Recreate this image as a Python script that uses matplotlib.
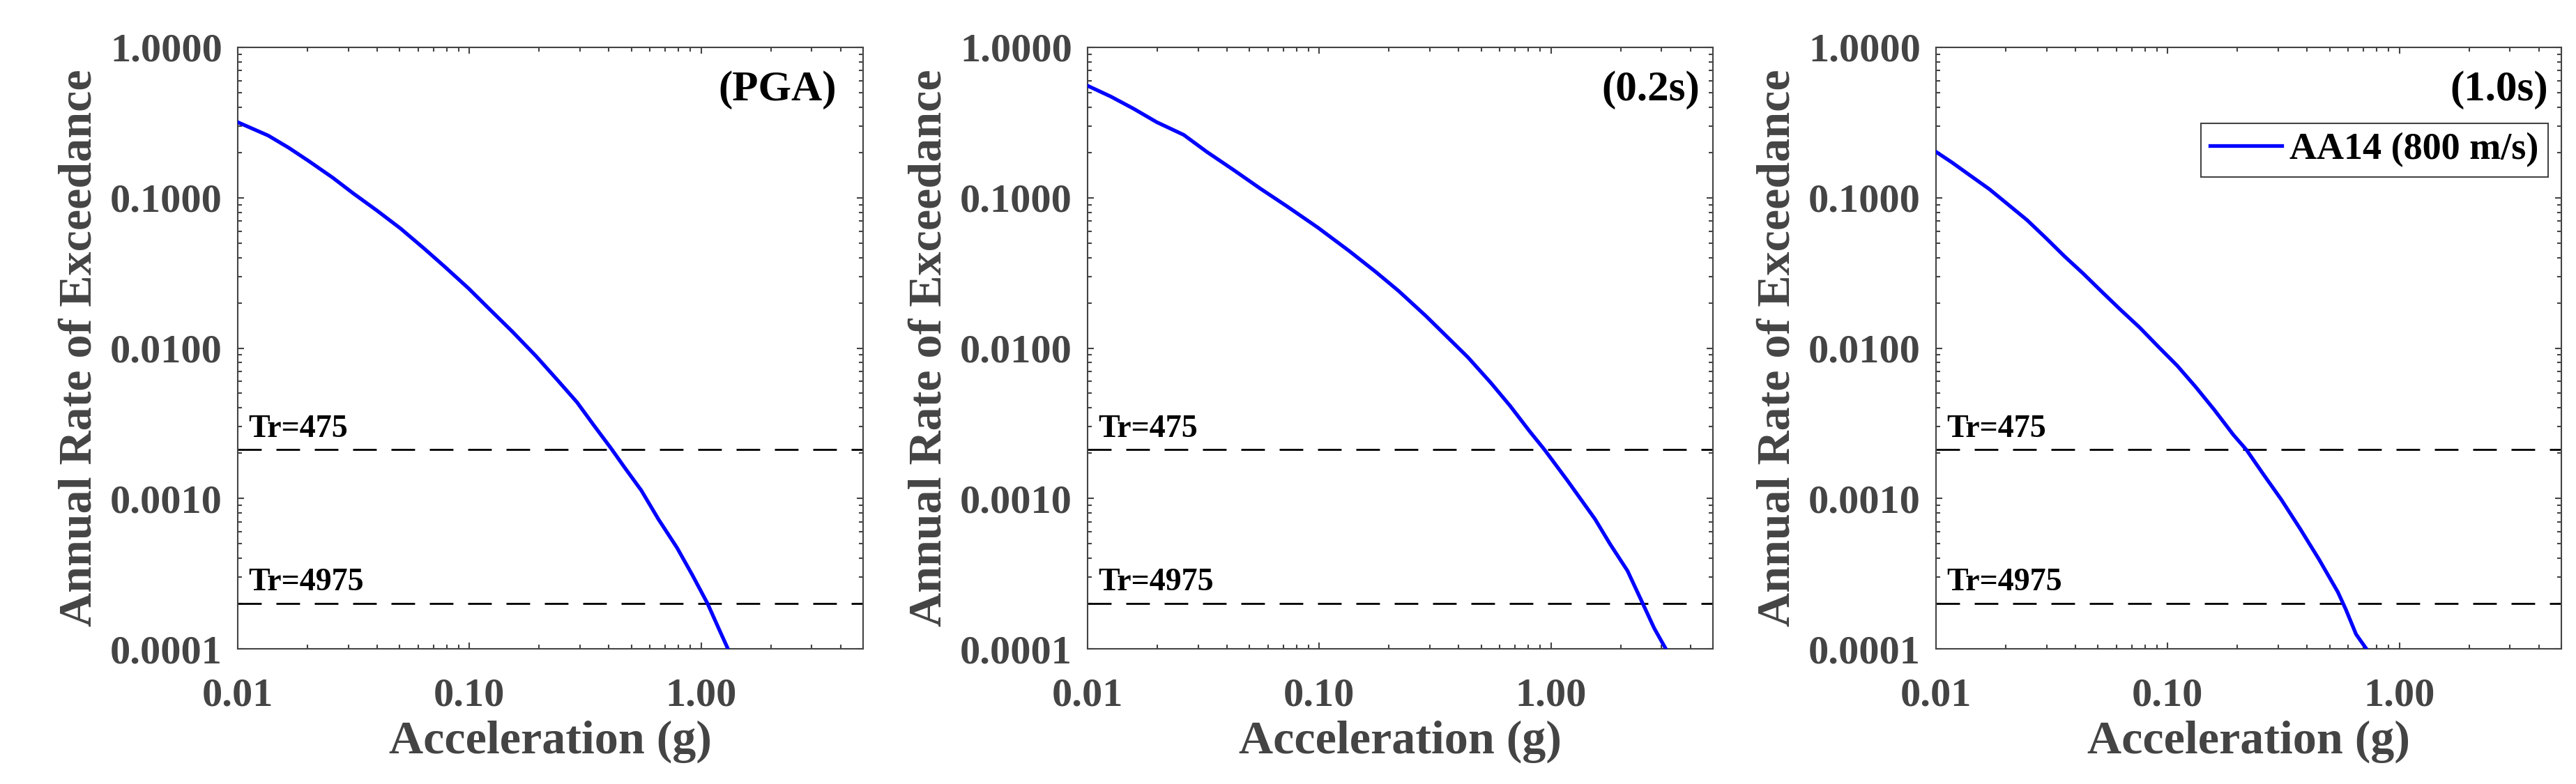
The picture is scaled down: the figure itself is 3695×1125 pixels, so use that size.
import numpy as np
import matplotlib
matplotlib.use('Agg')
import matplotlib.pyplot as plt
from matplotlib.ticker import FixedLocator, LogLocator, FormatStrFormatter, NullFormatter
from matplotlib.transforms import blended_transform_factory

plt.rcParams['font.family'] = ['Liberation Serif', 'DejaVu Serif']
plt.rcParams['font.weight'] = 'bold'

# hazard curves (acceleration in g, annual rate)
pga_x = [0.01, 0.01355, 0.0166, 0.0203, 0.0257, 0.0315, 0.0398, 0.0504, 0.0639, 0.0782, 0.099,
         0.121, 0.153, 0.194, 0.238, 0.291, 0.344, 0.408, 0.467, 0.552, 0.654, 0.787, 0.916,
         1.066, 1.20, 1.305]
pga_y = [0.318, 0.259, 0.215, 0.175, 0.136, 0.107, 0.0824, 0.0625, 0.0458, 0.0348, 0.0250,
         0.0184, 0.0129, 0.00883, 0.00621, 0.00437, 0.00307, 0.00216, 0.00161, 0.00113, 7.28e-4,
         4.7e-4, 3.1e-4, 2.0e-4, 1.33e-4, 1.0e-4]

sa02_x = [0.01, 0.0126, 0.0158, 0.0199, 0.026, 0.0327, 0.0427, 0.0557, 0.0728, 0.0988, 0.134,
          0.175, 0.220, 0.288, 0.362, 0.438, 0.551, 0.667, 0.807, 0.940, 1.18, 1.55, 1.80, 2.14,
          2.49, 2.79, 3.13]
sa02_y = [0.556, 0.471, 0.391, 0.318, 0.262, 0.202, 0.153, 0.115, 0.0874, 0.0632, 0.0445,
          0.0322, 0.0240, 0.0164, 0.0116, 0.00869, 0.00586, 0.00412, 0.00281, 0.00210, 0.00131,
          7.28e-4, 4.97e-4, 3.30e-4, 2.0e-4, 1.37e-4, 1.0e-4]

sa10_x = [0.01, 0.0117, 0.0141, 0.017, 0.0205, 0.0247, 0.0298, 0.0359, 0.0432, 0.0521, 0.0628,
          0.0757, 0.0912, 0.110, 0.132, 0.159, 0.192, 0.219, 0.257, 0.310, 0.373, 0.450, 0.542,
          0.587, 0.650, 0.72]
sa10_y = [0.202, 0.172, 0.140, 0.114, 0.0900, 0.0711, 0.0540, 0.0407, 0.0313, 0.0236, 0.0179,
          0.0137, 0.0102, 0.00763, 0.00552, 0.00388, 0.00265, 0.00210, 0.00147, 9.77e-4, 6.28e-4,
          3.93e-4, 2.39e-4, 1.83e-4, 1.25e-4, 1.0e-4]

panel_tags = ['(PGA)', '(0.2s)', '(1.0s)']
tag_x = [0.958, 0.979, 0.979]
return_periods = [475, 4975]
legend_label = 'AA14 (800 m/s)'
x_ticks = [0.01, 0.1, 1.0]
y_ticks = [1e-4, 1e-3, 1e-2, 1e-1, 1.0]

gray = '#444444'
fig = plt.figure(figsize=(36.95, 11.25), dpi=100)
lefts = [341 / 3695, 1560 / 3695, 2777 / 3695]
w = 897 / 3695
b = 1 - 931 / 1125
h = 863 / 1125

curves = [(pga_x, pga_y), (sa02_x, sa02_y), (sa10_x, sa10_y)]
for i in range(3):
    ax = fig.add_axes([lefts[i], b, w, h])
    xs, ys = curves[i]
    ax.plot(xs, ys, color='#0000FF', lw=3.8, label=legend_label, zorder=3)
    trans = blended_transform_factory(ax.transAxes, ax.transData)
    for tr in return_periods:
        ax.axhline(1.0 / tr, color='black', lw=2.0, linestyle=(0, (12.2, 7.6)), zorder=2)
        ax.text(0.017, (1.0 / tr) * 1.22, 'Tr=%d' % tr, transform=trans,
                fontsize=33, fontweight='bold', color='black', va='baseline', ha='left')
    ax.set_xscale('log')
    ax.set_yscale('log')
    ax.set_xlim(0.01, 5)
    ax.set_ylim(1e-4, 1)
    ax.xaxis.set_major_locator(FixedLocator(x_ticks))
    ax.yaxis.set_major_locator(FixedLocator(y_ticks))
    ax.xaxis.set_minor_locator(LogLocator(base=10, subs=np.arange(2, 10)))
    ax.yaxis.set_minor_locator(LogLocator(base=10, subs=np.arange(2, 10)))
    ax.xaxis.set_major_formatter(FormatStrFormatter('%.2f'))
    ax.yaxis.set_major_formatter(FormatStrFormatter('%.4f'))
    ax.xaxis.set_minor_formatter(NullFormatter())
    ax.yaxis.set_minor_formatter(NullFormatter())
    ax.tick_params(which='both', direction='in', top=True, right=True, color=gray, width=1.5)
    ax.tick_params(which='major', length=6.5)
    ax.tick_params(which='minor', length=4.3)
    ax.tick_params(axis='x', which='major', pad=30, labelsize=42, labelcolor=gray)
    ax.tick_params(axis='y', which='major', pad=16, labelsize=42, labelcolor=gray)
    for sp in ax.spines.values():
        sp.set_color(gray)
        sp.set_linewidth(1.5)
    ax.set_xlabel('Acceleration (g)', fontsize=49, fontweight='bold', color=gray, labelpad=6)
    ax.set_ylabel('Annual Rate of Exceedance', fontsize=49, fontweight='bold', color=gray, labelpad=10)
    ax.text(tag_x[i], 0.962, panel_tags[i], transform=ax.transAxes, fontsize=44,
            fontweight='bold', color='black', ha='right', va='top')
    if i == 2:
        leg = ax.legend(loc='upper right', bbox_to_anchor=(0.979, 0.874), borderaxespad=0,
                        fontsize=39, fancybox=False, framealpha=1, edgecolor=gray,
                        handlelength=1.9, handletextpad=0.2, borderpad=0.25)
        leg.get_frame().set_linewidth(1.5)
        for t in leg.get_texts():
            t.set_fontweight('bold')

fig.savefig('out.png', dpi=100)
